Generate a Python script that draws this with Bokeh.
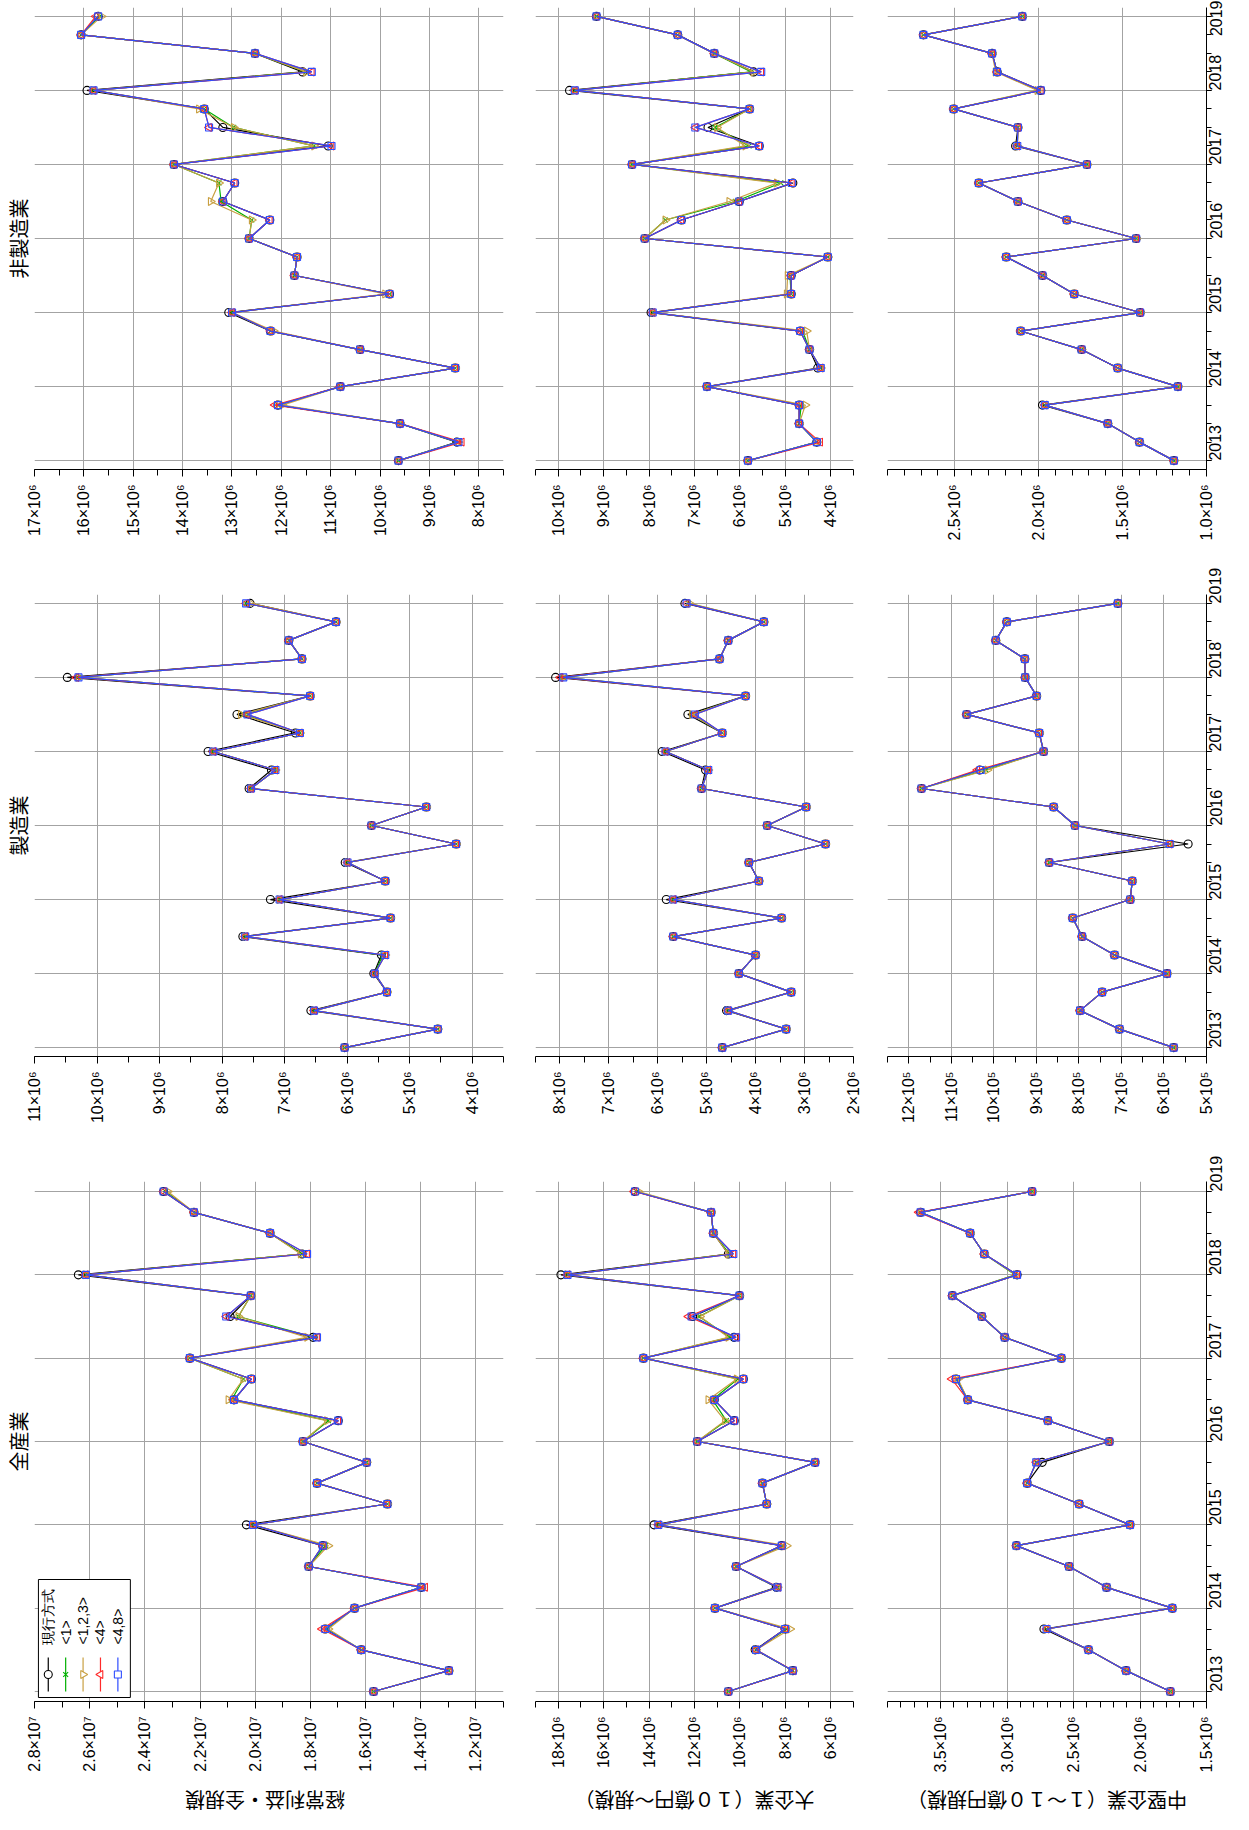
import math
from bokeh.plotting import figure
from bokeh.layouts import column, row
from bokeh.models import Range1d, FixedTicker, LinearAxis
from bokeh.core.properties import value
from bokeh.embed import file_html
from bokeh.resources import INLINE

# ---------------- data ----------------
quarters = [2013.0, 2013.25, 2013.5, 2013.75, 2014.0, 2014.25, 2014.5, 2014.75,
            2015.0, 2015.25, 2015.5, 2015.75, 2016.0, 2016.25, 2016.5, 2016.75,
            2017.0, 2017.25, 2017.5, 2017.75, 2018.0, 2018.25, 2018.5, 2018.75, 2019.0]
year_ticks = [2013, 2014, 2015, 2016, 2017, 2018, 2019]
series_names = ["現行方式", "<1>", "<1,2,3>", "<4>", "<4,8>"]
band_titles = ["非製造業", "製造業", "全産業"]
axis_titles = ["経常利益・全規模", "大企業（１０億円～規模）", "中堅企業（１～１０億円規模）"]

# values in units of 10^6
# 全産業 経常利益・全規模
zen_keijo_cur = [15.71, 12.98, 16.16, 17.46, 16.40, 13.98, 18.06, 17.55, 20.32, 15.21, 17.76, 15.96, 18.27, 16.99, 20.77, 20.14, 22.37, 17.90, 20.91, 20.16, 26.41, 18.30, 19.46, 22.22, 23.32]
zen_keijo_s1 = [15.71, 12.98, 16.16, 17.42, 16.40, 13.98, 18.06, 17.45, 20.08, 15.21, 17.76, 15.96, 18.27, 17.35, 20.85, 20.43, 22.37, 17.85, 20.61, 20.16, 26.14, 18.30, 19.46, 22.22, 23.25]
zen_keijo_s123 = [15.71, 12.98, 16.16, 17.35, 16.40, 13.98, 18.06, 17.35, 20.08, 15.21, 17.76, 15.96, 18.27, 17.40, 20.97, 20.43, 22.37, 18.12, 20.61, 20.16, 26.14, 18.35, 19.46, 22.22, 23.17]
zen_keijo_s4 = [15.71, 12.98, 16.16, 17.58, 16.40, 13.84, 18.06, 17.55, 20.08, 15.21, 17.76, 15.96, 18.27, 16.99, 20.77, 20.14, 22.37, 17.76, 21.05, 20.16, 26.14, 18.12, 19.46, 22.22, 23.32]
zen_keijo_s48 = [15.71, 12.98, 16.16, 17.46, 16.40, 13.98, 18.06, 17.55, 20.08, 15.21, 17.76, 15.96, 18.27, 16.99, 20.77, 20.14, 22.37, 17.76, 21.05, 20.16, 26.14, 18.12, 19.46, 22.22, 23.32]
zen_keijo_ticks = [28, 26, 24, 22, 20, 18, 16, 14, 12]
zen_keijo_labels = ["2.8×10⁷", "2.6×10⁷", "2.4×10⁷", "2.2×10⁷", "2.0×10⁷", "1.8×10⁷", "1.6×10⁷", "1.4×10⁷", "1.2×10⁷"]

# 全産業 大企業
zen_dai_cur = [10.51, 7.67, 9.33, 8.01, 11.10, 8.40, 10.17, 8.16, 13.78, 8.82, 9.01, 6.69, 11.88, 10.25, 11.13, 9.85, 14.25, 10.26, 12.08, 10.02, 17.88, 10.51, 11.17, 11.27, 14.62]
zen_dai_s1 = [10.51, 7.67, 9.29, 7.95, 11.10, 8.34, 10.17, 8.10, 13.59, 8.82, 9.01, 6.69, 11.88, 10.60, 11.20, 10.10, 14.25, 10.45, 11.80, 10.02, 17.59, 10.45, 11.17, 11.27, 14.55]
zen_dai_s123 = [10.51, 7.67, 9.29, 7.79, 11.10, 8.34, 10.17, 7.94, 13.59, 8.82, 9.01, 6.69, 11.88, 10.66, 11.39, 10.14, 14.25, 10.51, 11.76, 10.02, 17.59, 10.51, 11.17, 11.27, 14.47]
zen_dai_s4 = [10.51, 7.64, 9.29, 8.01, 11.10, 8.31, 10.17, 8.16, 13.59, 8.82, 9.01, 6.69, 11.88, 10.25, 11.13, 9.85, 14.25, 10.17, 12.27, 10.02, 17.59, 10.29, 11.17, 11.27, 14.66]
zen_dai_s48 = [10.51, 7.67, 9.29, 8.01, 11.10, 8.34, 10.17, 8.16, 13.59, 8.82, 9.01, 6.69, 11.88, 10.25, 11.13, 9.85, 14.25, 10.17, 12.13, 10.02, 17.59, 10.29, 11.17, 11.27, 14.62]
zen_dai_ticks = [18, 16, 14, 12, 10, 8, 6]
zen_dai_labels = ["18×10⁶", "16×10⁶", "14×10⁶", "12×10⁶", "10×10⁶", "8×10⁶", "6×10⁶"]

# 全産業 中堅企業
zen_chu_cur = [1.772, 2.105, 2.388, 2.723, 1.757, 2.252, 2.534, 2.930, 2.075, 2.458, 2.849, 2.736, 2.231, 2.693, 3.296, 3.384, 2.592, 3.018, 3.190, 3.412, 2.925, 3.172, 3.278, 3.651, 2.812]
zen_chu_s1 = [1.772, 2.105, 2.388, 2.703, 1.757, 2.252, 2.534, 2.930, 2.075, 2.458, 2.849, 2.781, 2.231, 2.693, 3.296, 3.375, 2.592, 3.018, 3.190, 3.412, 2.940, 3.172, 3.278, 3.651, 2.812]
zen_chu_s123 = [1.772, 2.105, 2.388, 2.703, 1.757, 2.252, 2.534, 2.930, 2.075, 2.458, 2.849, 2.781, 2.231, 2.693, 3.296, 3.370, 2.592, 3.018, 3.190, 3.412, 2.935, 3.172, 3.278, 3.651, 2.812]
zen_chu_s4 = [1.772, 2.105, 2.388, 2.703, 1.757, 2.252, 2.534, 2.930, 2.075, 2.458, 2.849, 2.781, 2.231, 2.693, 3.296, 3.417, 2.592, 3.018, 3.190, 3.412, 2.925, 3.172, 3.278, 3.665, 2.812]
zen_chu_s48 = [1.772, 2.105, 2.388, 2.703, 1.757, 2.252, 2.534, 2.930, 2.075, 2.458, 2.849, 2.781, 2.231, 2.693, 3.296, 3.384, 2.592, 3.018, 3.190, 3.412, 2.925, 3.172, 3.278, 3.651, 2.812]
zen_chu_ticks = [3.5, 3.0, 2.5, 2.0, 1.5]
zen_chu_labels = ["3.5×10⁶", "3.0×10⁶", "2.5×10⁶", "2.0×10⁶", "1.5×10⁶"]

# 製造業 経常利益・全規模
sei_keijo_cur = [6.041, 4.551, 6.580, 5.364, 5.574, 5.452, 7.668, 5.307, 7.227, 5.391, 6.031, 4.257, 5.611, 4.735, 7.568, 7.211, 8.224, 6.828, 7.762, 6.592, 10.475, 6.723, 6.933, 6.178, 7.553]
sei_keijo_s1 = [6.041, 4.551, 6.529, 5.364, 5.558, 5.430, 7.631, 5.307, 7.080, 5.391, 5.994, 4.257, 5.611, 4.735, 7.537, 7.148, 8.140, 6.755, 7.660, 6.592, 10.297, 6.723, 6.933, 6.178, 7.616]
sei_keijo_s123 = [6.041, 4.551, 6.529, 5.364, 5.558, 5.391, 7.631, 5.307, 7.080, 5.391, 5.994, 4.257, 5.611, 4.735, 7.537, 7.148, 8.140, 6.755, 7.700, 6.592, 10.297, 6.723, 6.933, 6.178, 7.550]
sei_keijo_s4 = [6.041, 4.551, 6.529, 5.364, 5.558, 5.391, 7.631, 5.307, 7.080, 5.391, 5.994, 4.257, 5.611, 4.735, 7.537, 7.148, 8.140, 6.755, 7.594, 6.592, 10.330, 6.723, 6.933, 6.178, 7.616]
sei_keijo_s48 = [6.041, 4.551, 6.529, 5.364, 5.558, 5.391, 7.631, 5.307, 7.080, 5.391, 5.994, 4.257, 5.611, 4.735, 7.537, 7.148, 8.140, 6.755, 7.594, 6.592, 10.297, 6.723, 6.933, 6.178, 7.616]
sei_keijo_ticks = [11, 10, 9, 8, 7, 6, 5, 4]
sei_keijo_labels = ["11×10⁶", "10×10⁶", "9×10⁶", "8×10⁶", "7×10⁶", "6×10⁶", "5×10⁶", "4×10⁶"]

# 製造業 大企業
sei_dai_cur = [4.683, 3.376, 4.595, 3.273, 4.343, 4.002, 5.684, 3.471, 5.827, 3.934, 4.138, 2.572, 3.764, 2.967, 5.106, 5.024, 5.909, 4.683, 5.385, 4.207, 8.089, 4.738, 4.561, 3.832, 5.446]
sei_dai_s1 = [4.683, 3.376, 4.561, 3.273, 4.343, 4.002, 5.684, 3.471, 5.684, 3.934, 4.138, 2.572, 3.764, 2.967, 5.106, 4.969, 5.841, 4.683, 5.300, 4.207, 7.932, 4.738, 4.561, 3.832, 5.370]
sei_dai_s123 = [4.683, 3.376, 4.561, 3.273, 4.343, 4.002, 5.684, 3.471, 5.684, 3.934, 4.138, 2.572, 3.764, 2.967, 5.106, 4.969, 5.841, 4.683, 5.300, 4.207, 7.932, 4.738, 4.561, 3.832, 5.350]
sei_dai_s4 = [4.683, 3.376, 4.561, 3.273, 4.343, 4.002, 5.684, 3.471, 5.684, 3.934, 4.138, 2.572, 3.764, 2.967, 5.106, 4.969, 5.841, 4.683, 5.242, 4.207, 7.990, 4.738, 4.561, 3.832, 5.412]
sei_dai_s48 = [4.683, 3.376, 4.561, 3.273, 4.343, 4.002, 5.684, 3.471, 5.684, 3.934, 4.138, 2.572, 3.764, 2.967, 5.106, 4.969, 5.841, 4.683, 5.242, 4.207, 7.932, 4.738, 4.561, 3.832, 5.412]
sei_dai_ticks = [8, 7, 6, 5, 4, 3, 2]
sei_dai_labels = ["8×10⁶", "7×10⁶", "6×10⁶", "5×10⁶", "4×10⁶", "3×10⁶", "2×10⁶"]

# 製造業 中堅企業
sei_chu_cur = [0.5771, 0.7045, 0.7973, 0.7454, 0.5928, 0.7163, 0.7926, 0.8146, 0.6793, 0.6746, 0.8697, 0.5432, 0.8091, 0.8594, 1.1701, 1.0330, 0.8830, 0.8933, 1.0639, 0.8995, 0.9263, 0.9271, 0.9955, 0.9695, 0.7084]
sei_chu_s1 = [0.5771, 0.7045, 0.7973, 0.7454, 0.5928, 0.7163, 0.7926, 0.8146, 0.6793, 0.6746, 0.8697, 0.5865, 0.8091, 0.8594, 1.1701, 1.0190, 0.8830, 0.8933, 1.0639, 0.8995, 0.9263, 0.9271, 0.9955, 0.9695, 0.7084]
sei_chu_s123 = [0.5771, 0.7045, 0.7973, 0.7454, 0.5928, 0.7163, 0.7926, 0.8146, 0.6793, 0.6746, 0.8697, 0.5865, 0.8091, 0.8594, 1.1701, 1.0150, 0.8830, 0.8933, 1.0639, 0.8995, 0.9263, 0.9271, 0.9955, 0.9695, 0.7084]
sei_chu_s4 = [0.5771, 0.7045, 0.7973, 0.7454, 0.5928, 0.7163, 0.7926, 0.8146, 0.6793, 0.6746, 0.8697, 0.5865, 0.8091, 0.8594, 1.1701, 1.0390, 0.8830, 0.8933, 1.0639, 0.8995, 0.9263, 0.9271, 0.9955, 0.9695, 0.7084]
sei_chu_s48 = [0.5771, 0.7045, 0.7973, 0.7454, 0.5928, 0.7163, 0.7926, 0.8146, 0.6793, 0.6746, 0.8697, 0.5865, 0.8091, 0.8594, 1.1701, 1.0309, 0.8830, 0.8933, 1.0639, 0.8995, 0.9263, 0.9271, 0.9955, 0.9695, 0.7084]
sei_chu_ticks = [1.2, 1.1, 1.0, 0.9, 0.8, 0.7, 0.6, 0.5]
sei_chu_labels = ["12×10⁵", "11×10⁵", "10×10⁵", "9×10⁵", "8×10⁵", "7×10⁵", "6×10⁵", "5×10⁵"]

# 非製造業 経常利益・全規模
hi_keijo_cur = [9.628, 8.445, 9.595, 12.068, 10.805, 8.478, 10.406, 12.221, 13.065, 9.808, 11.735, 11.682, 12.653, 12.234, 13.185, 12.945, 14.175, 11.051, 13.185, 13.563, 15.936, 11.569, 12.533, 16.056, 15.710]
hi_keijo_s1 = [9.628, 8.412, 9.595, 12.068, 10.805, 8.478, 10.406, 12.221, 12.998, 9.808, 11.735, 11.682, 12.653, 12.600, 13.220, 13.264, 14.175, 11.337, 12.965, 13.563, 15.804, 11.500, 12.533, 16.056, 15.680]
hi_keijo_s123 = [9.628, 8.412, 9.595, 11.980, 10.805, 8.478, 10.406, 12.155, 12.998, 9.900, 11.735, 11.682, 12.653, 12.600, 13.430, 13.264, 14.175, 11.337, 12.965, 13.670, 15.804, 11.500, 12.533, 16.056, 15.640]
hi_keijo_s4 = [9.628, 8.346, 9.595, 12.134, 10.805, 8.478, 10.406, 12.221, 12.998, 9.808, 11.735, 11.682, 12.653, 12.234, 13.185, 12.945, 14.175, 10.984, 13.464, 13.563, 15.804, 11.383, 12.533, 16.056, 15.760]
hi_keijo_s48 = [9.628, 8.412, 9.595, 12.068, 10.805, 8.478, 10.406, 12.221, 12.998, 9.808, 11.735, 11.682, 12.653, 12.234, 13.185, 12.945, 14.175, 10.984, 13.464, 13.563, 15.804, 11.383, 12.533, 16.056, 15.710]
hi_keijo_ticks = [17, 16, 15, 14, 13, 12, 11, 10, 9, 8]
hi_keijo_labels = ["17×10⁶", "16×10⁶", "15×10⁶", "14×10⁶", "13×10⁶", "12×10⁶", "11×10⁶", "10×10⁶", "9×10⁶", "8×10⁶"]

# 非製造業 大企業
hi_dai_cur = [5.824, 4.308, 4.696, 4.696, 6.725, 4.286, 4.469, 4.674, 7.956, 4.872, 4.872, 4.066, 8.095, 7.289, 6.015, 4.835, 8.374, 5.575, 6.703, 5.788, 9.751, 5.700, 6.564, 7.370, 9.158]
hi_dai_s1 = [5.824, 4.308, 4.696, 4.650, 6.725, 4.220, 4.469, 4.620, 7.919, 4.872, 4.900, 4.066, 8.095, 7.641, 6.100, 5.100, 8.374, 5.800, 6.550, 5.788, 9.634, 5.750, 6.564, 7.370, 9.158]
hi_dai_s123 = [5.824, 4.308, 4.696, 4.560, 6.725, 4.220, 4.469, 4.530, 7.919, 4.970, 4.950, 4.066, 8.095, 7.641, 6.234, 5.187, 8.374, 5.883, 6.505, 5.788, 9.634, 5.700, 6.564, 7.370, 9.158]
hi_dai_s4 = [5.824, 4.234, 4.696, 4.696, 6.725, 4.220, 4.469, 4.674, 7.919, 4.872, 4.872, 4.066, 8.095, 7.289, 6.015, 4.857, 8.374, 5.575, 6.982, 5.788, 9.634, 5.531, 6.564, 7.370, 9.158]
hi_dai_s48 = [5.824, 4.308, 4.696, 4.696, 6.725, 4.220, 4.469, 4.674, 7.919, 4.872, 4.872, 4.066, 8.095, 7.289, 6.015, 4.857, 8.374, 5.575, 6.982, 5.788, 9.634, 5.531, 6.564, 7.370, 9.158]
hi_dai_ticks = [10, 9, 8, 7, 6, 5, 4]
hi_dai_labels = ["10×10⁶", "9×10⁶", "8×10⁶", "7×10⁶", "6×10⁶", "5×10⁶", "4×10⁶"]

# 非製造業 中堅企業
hi_chu_cur = [1.194, 1.399, 1.588, 1.977, 1.170, 1.529, 1.744, 2.107, 1.395, 1.788, 1.977, 2.193, 1.419, 1.832, 2.123, 2.356, 1.712, 2.137, 2.123, 2.506, 1.987, 2.247, 2.277, 2.686, 2.097]
hi_chu_s1 = [1.194, 1.399, 1.588, 1.963, 1.170, 1.529, 1.744, 2.107, 1.395, 1.788, 1.977, 2.193, 1.419, 1.832, 2.123, 2.356, 1.712, 2.127, 2.123, 2.506, 2.000, 2.247, 2.277, 2.686, 2.097]
hi_chu_s123 = [1.194, 1.399, 1.588, 1.963, 1.170, 1.529, 1.744, 2.107, 1.395, 1.788, 1.977, 2.193, 1.419, 1.832, 2.123, 2.356, 1.712, 2.127, 2.123, 2.506, 2.007, 2.256, 2.277, 2.686, 2.097]
hi_chu_s4 = [1.194, 1.399, 1.588, 1.963, 1.170, 1.529, 1.744, 2.107, 1.395, 1.788, 1.977, 2.193, 1.419, 1.832, 2.123, 2.356, 1.712, 2.127, 2.123, 2.506, 1.987, 2.247, 2.277, 2.686, 2.097]
hi_chu_s48 = [1.194, 1.399, 1.588, 1.963, 1.170, 1.529, 1.744, 2.107, 1.395, 1.788, 1.977, 2.193, 1.419, 1.832, 2.123, 2.356, 1.712, 2.127, 2.123, 2.506, 1.987, 2.247, 2.277, 2.686, 2.097]
hi_chu_ticks = [2.5, 2.0, 1.5, 1.0]
hi_chu_labels = ["2.5×10⁶", "2.0×10⁶", "1.5×10⁶", "1.0×10⁶"]

UNIT = 1e6

# ---------------- layout / style ----------------
COL_W = [518, 350, 368]
COL_BL = [26, 17, 19]
COL_BR = [15, 15, 30]
BAND_H = [547, 587, 643]
BAND_BT = [7, 47, 47]
BAND_BB = [78, 78, 76]
STRIP_H = 37
STRIP_TEXT_Y = 14.5
Y0, Y1 = 2012.88, 2019.12

LAT = "Liberation Sans"
CJK = "Noto Sans CJK JP"
GRID = "#a3a3a3"

STYLES = [
    dict(color="black", marker="circle", angle=0.0, size=8),
    dict(color="#00b000", marker="x", angle=0.0, size=7),
    dict(color="#c9a042", marker="inverted_triangle", angle=math.pi / 2, size=8),
    dict(color="#ff2a2a", marker="triangle", angle=math.pi / 2, size=8),
    dict(color="#2f4dff", marker="square", angle=0.0, size=7),
]

panels = {
    (0, 0): dict(xmax=17, xmin=7.5, step=0.5, ticks=hi_keijo_ticks, labels=hi_keijo_labels,
                 series=[hi_keijo_cur, hi_keijo_s1, hi_keijo_s123, hi_keijo_s4, hi_keijo_s48]),
    (0, 1): dict(xmax=10.5, xmin=3.5, step=0.5, ticks=hi_dai_ticks, labels=hi_dai_labels,
                 series=[hi_dai_cur, hi_dai_s1, hi_dai_s123, hi_dai_s4, hi_dai_s48]),
    (0, 2): dict(xmax=2.9, xmin=1.0, step=0.1, ticks=hi_chu_ticks, labels=hi_chu_labels,
                 series=[hi_chu_cur, hi_chu_s1, hi_chu_s123, hi_chu_s4, hi_chu_s48]),
    (1, 0): dict(xmax=11, xmin=3.5, step=0.5, ticks=sei_keijo_ticks, labels=sei_keijo_labels,
                 series=[sei_keijo_cur, sei_keijo_s1, sei_keijo_s123, sei_keijo_s4, sei_keijo_s48]),
    (1, 1): dict(xmax=8.5, xmin=2.0, step=0.5, ticks=sei_dai_ticks, labels=sei_dai_labels,
                 series=[sei_dai_cur, sei_dai_s1, sei_dai_s123, sei_dai_s4, sei_dai_s48]),
    (1, 2): dict(xmax=1.25, xmin=0.5, step=0.05, ticks=sei_chu_ticks, labels=sei_chu_labels,
                 series=[sei_chu_cur, sei_chu_s1, sei_chu_s123, sei_chu_s4, sei_chu_s48]),
    (2, 0): dict(xmax=28, xmin=11, step=1.0, ticks=zen_keijo_ticks, labels=zen_keijo_labels,
                 series=[zen_keijo_cur, zen_keijo_s1, zen_keijo_s123, zen_keijo_s4, zen_keijo_s48]),
    (2, 1): dict(xmax=19, xmin=5, step=1.0, ticks=zen_dai_ticks, labels=zen_dai_labels,
                 series=[zen_dai_cur, zen_dai_s1, zen_dai_s123, zen_dai_s4, zen_dai_s48]),
    (2, 2): dict(xmax=3.9, xmin=1.5, step=0.1, ticks=zen_chu_ticks, labels=zen_chu_labels,
                 series=[zen_chu_cur, zen_chu_s1, zen_chu_s123, zen_chu_s4, zen_chu_s48]),
}


def make_panel(band, col):
    spec = panels[(band, col)]
    fw = COL_W[col] - COL_BL[col] - COL_BR[col]
    fh = BAND_H[band] - BAND_BT[band] - BAND_BB[band]
    xs, xe = spec["xmax"] * UNIT, spec["xmin"] * UNIT

    def xd(px):
        return xs + px / fw * (xe - xs)

    def yd(py):
        return Y0 + py / fh * (Y1 - Y0)

    p = figure(width=COL_W[col], height=BAND_H[band],
               x_range=Range1d(xs, xe), y_range=Range1d(Y0, Y1),
               output_backend="svg", toolbar_location=None,
               x_axis_location="below", y_axis_location=None,
               min_border_left=COL_BL[col], min_border_right=COL_BR[col],
               min_border_top=BAND_BT[band], min_border_bottom=BAND_BB[band])
    p.outline_line_color = None
    p.background_fill_color = "white"
    p.border_fill_color = "white"

    tick_vals = [int(round(t * UNIT)) for t in spec["ticks"]]
    nminor = int(round((spec["xmax"] - spec["xmin"]) / spec["step"]))
    minor_vals = [int(round((spec["xmin"] + i * spec["step"]) * UNIT)) for i in range(nminor + 1)]
    ax = p.xaxis[0]
    ax.ticker = FixedTicker(ticks=tick_vals, minor_ticks=minor_vals)
    ax.major_label_overrides = {t: lab for t, lab in zip(tick_vals, spec["labels"])}
    ax.major_label_orientation = math.pi / 2
    ax.major_label_text_font = LAT
    ax.major_label_text_font_size = "16px"
    ax.major_label_text_color = "black"
    ax.major_label_standoff = 8
    ax.axis_line_color = "black"
    ax.axis_line_width = 1
    ax.major_tick_line_color = "black"
    ax.minor_tick_line_color = "black"
    ax.major_tick_out = 7
    ax.major_tick_in = 0
    ax.minor_tick_out = 6
    ax.minor_tick_in = 0

    xg = p.xgrid[0]
    xg.ticker = FixedTicker(ticks=tick_vals)
    xg.grid_line_color = GRID
    xg.grid_line_width = 1
    yg = p.ygrid[0]
    yg.ticker = FixedTicker(ticks=year_ticks)
    yg.grid_line_color = GRID
    yg.grid_line_width = 1

    if col == 2:
        rax = LinearAxis(ticker=FixedTicker(ticks=year_ticks, minor_ticks=quarters))
        rax.major_label_overrides = {y: str(y) for y in year_ticks}
        rax.major_label_orientation = math.pi / 2
        rax.major_label_text_font = LAT
        rax.major_label_text_font_size = "16px"
        rax.major_label_text_color = "black"
        rax.major_label_standoff = 4
        rax.axis_line_color = "black"
        rax.major_tick_out = 5
        rax.major_tick_in = 0
        rax.minor_tick_out = 5
        rax.minor_tick_in = 0
        p.add_layout(rax, "right")

    if col == 0:
        # band title as the label of a bare left axis
        lax = LinearAxis(ticker=FixedTicker(ticks=[]), axis_label=band_titles[band])
        lax.axis_line_color = None
        lax.major_tick_line_color = None
        lax.minor_tick_line_color = None
        lax.major_tick_out = 0
        lax.major_label_standoff = 0
        lax.axis_label_standoff = 2
        lax.axis_label_text_font = CJK
        lax.axis_label_text_font_size = "20px"
        lax.axis_label_text_font_style = "normal"
        lax.axis_label_text_color = "black"
        p.add_layout(lax, "left")

    for vals, st in zip(spec["series"], STYLES):
        xv = [v * UNIT for v in vals]
        p.line(x=xv, y=quarters, line_color=st["color"], line_width=1.2)
        p.scatter(x=xv, y=quarters, marker=st["marker"], angle=st["angle"], size=st["size"],
                  line_color=st["color"], fill_color=None, line_width=1.1)

    if band == 2 and col == 0:
        # legend box (positions in frame pixels converted to data space)
        p.quad(left=[xd(4)], right=[xd(97.5)], bottom=[yd(4)], top=[yd(122)],
               fill_color="white", line_color="black", line_width=1)
        lx = [xd(14 + i * 17.7) for i in range(len(series_names))]
        for i, st in enumerate(STYLES):
            p.segment(x0=[lx[i]], y0=[yd(10)], x1=[lx[i]], y1=[yd(44)],
                      line_color=st["color"], line_width=1.2)
            p.scatter(x=[lx[i]], y=[yd(27)], marker=st["marker"], angle=st["angle"], size=st["size"],
                      line_color=st["color"], fill_color="white", line_width=1.1)
        p.text(x=lx, y=[yd(57)] * len(lx), text=series_names, angle=math.pi / 2,
               text_align="left", text_baseline="middle",
               text_font=value(LAT), text_font_size="14px", text_color="black")
    return p


def make_strip(col):
    # a strip under the bottom row that carries the upside-down row title
    s = figure(width=COL_W[col], height=STRIP_H,
               x_range=Range1d(0, 1), y_range=Range1d(0, STRIP_H),
               output_backend="svg", toolbar_location=None,
               x_axis_location=None, y_axis_location=None,
               min_border_left=COL_BL[col], min_border_right=COL_BR[col],
               min_border_top=0, min_border_bottom=0)
    s.outline_line_color = None
    s.background_fill_color = "white"
    s.border_fill_color = "white"
    for g in s.grid:
        g.visible = False
    s.text(x=[0.5], y=[STRIP_TEXT_Y], text=[axis_titles[col]], angle=math.pi,
           text_align="center", text_baseline="middle",
           text_font=value(CJK), text_font_size="20px", text_color="black")
    return s


rows = []
for band in range(3):
    rows.append(row(*[make_panel(band, col) for col in range(3)]))
rows.append(row(*[make_strip(col) for col in range(3)]))
layout = column(*rows)

open("out.html", "w").write(file_html(layout, INLINE))
